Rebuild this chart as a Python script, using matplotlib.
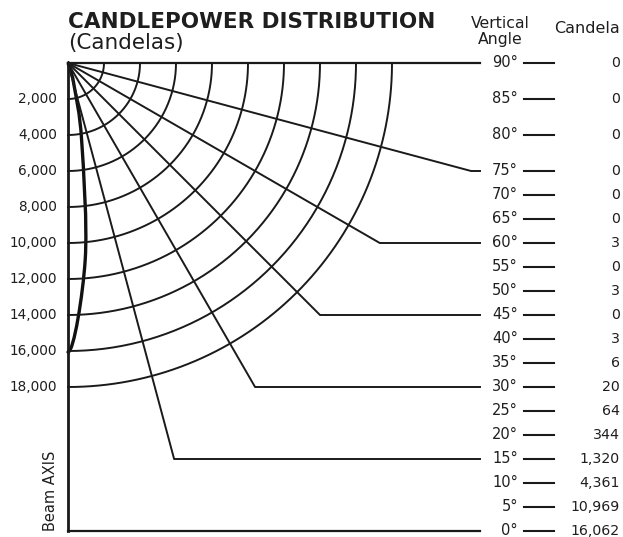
import numpy as np
import matplotlib.pyplot as plt
from matplotlib.path import Path
from matplotlib.patches import PathPatch


# ==========================================================
# DATA
# ==========================================================

angles = [90, 85, 80, 75, 70, 65, 60, 55, 50, 45, 40, 35, 30, 25, 20, 15, 10, 5, 0]
candela = [0, 0, 0, 0, 0, 0, 3, 0, 3, 0, 3, 6, 20, 64, 344, 1320, 4361, 10969, 16062]
candela_labels = ["0", "0", "0", "0", "0", "0", "3", "0", "3", "0", "3", "6", "20",
                  "64", "344", "1,320", "4,361", "10,969", "16,062"]

ring_values = [2000, 4000, 6000, 8000, 10000, 12000, 14000, 16000, 18000]
ring_labels = ["2,000", "4,000", "6,000", "8,000", "10,000", "12,000", "14,000", "16,000", "18,000"]

radial_angles = [15, 30, 45, 60, 75]


# ==========================================================
# LAYOUT (pixels -> candela units)
# ==========================================================

W, H = 623, 537
PX = 2000 / 36.0          # candela per pixel
X0, Y0 = 68, 63           # origin of the diagram in pixels
INK = '#1a1a1a'
TXT = '#1e1e1e'


def px_x(p):
    return (p - X0) * PX


def row_y(a):
    # label rows: 90..75 every 2000 cd, below that every 24 px
    if a >= 75:
        return (90 - a) / 5 * 2000
    return 6000 + (75 - a) / 5 * 24 * PX


fig = plt.figure(figsize=(W / 100, H / 100), dpi=100)
ax = fig.add_axes([0, 0, 1, 1])
ax.set_xlim(-X0 * PX, (W - X0) * PX)
ax.set_ylim((H - Y0) * PX, -Y0 * PX)
ax.axis('off')

line_end = px_x(480)

# Concentric rings
t = np.linspace(0, np.pi / 2, 200)
for r in ring_values:
    ax.plot(r * np.sin(t), r * np.cos(t), color=INK, lw=1.4)

# Radial lines with horizontal leaders to the label rows
for a in radial_angles:
    yr = row_y(a)
    xr = yr * np.tan(np.radians(a))
    ax.plot([0, xr, line_end], [0, yr, yr], color=INK, lw=1.4)

# Axis lines: 90 deg (top), beam axis (left), 0 deg leader (bottom)
ax.plot([0, line_end], [0, 0], color=INK, lw=1.6)
ax.plot([0, 0], [0, row_y(0)], color=INK, lw=2.0)
ax.plot([0, line_end], [row_y(0), row_y(0)], color=INK, lw=1.6)

# Candela curve, smooth through the polar points (Catmull-Rom -> Bezier)
th = np.radians(np.array(angles[::-1], dtype=float))
cd = np.array(candela[::-1], dtype=float)
pts = np.column_stack([cd * np.sin(th), cd * np.cos(th)])
ext = np.vstack([[-pts[1, 0], pts[1, 1]], pts, pts[-1]])
verts = [pts[0]]
codes = [Path.MOVETO]
for i in range(1, len(ext) - 2):
    p0, p1, p2, p3 = ext[i - 1], ext[i], ext[i + 1], ext[i + 2]
    verts += [p1 + (p2 - p0) / 6, p2 - (p3 - p1) / 6, p2]
    codes += [Path.CURVE4] * 3
ax.add_patch(PathPatch(Path(verts, codes), facecolor='none', edgecolor='#111111',
                       lw=2.4, capstyle='round'))

# Ring labels
for r, lab in zip(ring_values, ring_labels):
    ax.text(px_x(57), r, lab, ha='right', va='center', fontsize=9.8, color=TXT)

# Angle / candela table
for a, lab in zip(angles, candela_labels):
    yr = row_y(a)
    ax.text(px_x(518), yr, f"{a}°", ha='right', va='center', fontsize=10.5, color=TXT)
    ax.plot([px_x(524), px_x(554)], [yr, yr], color=INK, lw=1.5)
    ax.text(px_x(620), yr, lab, ha='right', va='center', fontsize=10.2, color=TXT)

ax.text(px_x(51), row_y(0) - 40 * PX, "Beam AXIS", rotation=90,
        ha='center', va='center', fontsize=10.5, color=TXT)

# Titles
fig.text(68 / W, 1 - 27.5 / H, "CANDLEPOWER DISTRIBUTION", fontsize=15.5,
         fontweight='bold', ha='left', va='baseline', color=TXT)
fig.text(68 / W, 1 - 49.5 / H, "(Candelas)", fontsize=15.5, ha='left', va='baseline',
         color=TXT)
fig.text(500 / W, 1 - 28 / H, "Vertical", fontsize=11.3, ha='center', va='baseline',
         color=TXT)
fig.text(500 / W, 1 - 44 / H, "Angle", fontsize=11.3, ha='center', va='baseline',
         color=TXT)
fig.text(587 / W, 1 - 33 / H, "Candela", fontsize=11.5, ha='center', va='baseline',
         color=TXT)

fig.savefig("out.png", dpi=100)
